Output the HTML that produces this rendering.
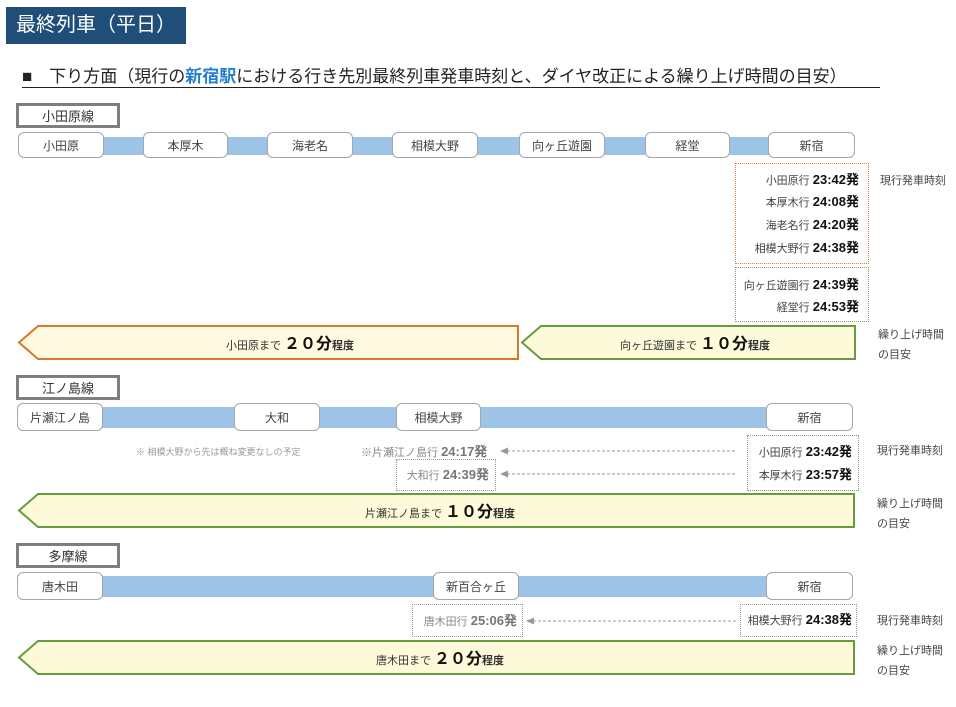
<!DOCTYPE html>
<html><head><meta charset="utf-8"><style>
*{margin:0;padding:0;box-sizing:border-box}
body{width:956px;height:707px;position:relative;background:#fff;font-family:"Liberation Sans","Noto Sans CJK JP",sans-serif;color:#333;overflow:hidden}
.a{position:absolute}
.st{position:absolute;background:#fff;border:1px solid #a6a6a6;border-radius:6px;font-size:12px;display:flex;align-items:center;justify-content:center;color:#444}
.bar{position:absolute;background:#9dc3e6}
.lb{position:absolute;border:3px solid #7f7f7f;font-size:13px;display:flex;align-items:center;justify-content:center;background:#fff;color:#333}
.tt{position:absolute;font-size:11px;text-align:right;color:#444;white-space:nowrap}
.tt b{font-size:13px;color:#111}
.side{position:absolute;font-size:11px;color:#444;line-height:20px}
.g{color:#888}.g b{color:#777}
</style></head><body>
<div class="a" style="left:6px;top:7px;width:180px;height:37px;background:#1f4e79;color:#fff;font-size:20px;line-height:36px;padding-left:10px">最終列車（平日）</div>
<div class="a" style="left:22px;top:66px;width:858px;height:22px;border-bottom:1.5px solid #222;font-size:17px;color:#222;white-space:nowrap;line-height:22px">■　下り方面（現行の<span style="color:#1f7fd0;font-weight:bold">新宿駅</span>における行き先別最終列車発車時刻と、ダイヤ改正による繰り上げ時間の目安）</div>

<div class="lb" style="left:16px;top:103px;width:104px;height:25px">小田原線</div>
<div class="bar" style="left:100px;top:137px;width:670px;height:18px"></div>
<div class="st" style="left:18px;top:132px;width:86px;height:26px">小田原</div>
<div class="st" style="left:143px;top:132px;width:85px;height:26px">本厚木</div>
<div class="st" style="left:267px;top:132px;width:86px;height:26px">海老名</div>
<div class="st" style="left:392px;top:132px;width:86px;height:26px">相模大野</div>
<div class="st" style="left:519px;top:132px;width:86px;height:26px">向ヶ丘遊園</div>
<div class="st" style="left:645px;top:132px;width:85px;height:26px">経堂</div>
<div class="st" style="left:768px;top:132px;width:87px;height:26px">新宿</div>

<div class="a" style="left:735px;top:163px;width:134px;height:101px;border:1px dotted #d08050"></div>
<div class="tt" style="right:97px;top:169px">小田原行 <b>23:42発</b></div>
<div class="tt" style="right:97px;top:191px">本厚木行 <b>24:08発</b></div>
<div class="tt" style="right:97px;top:214px">海老名行 <b>24:20発</b></div>
<div class="tt" style="right:97px;top:237px">相模大野行 <b>24:38発</b></div>
<div class="a" style="left:735px;top:267px;width:134px;height:55px;border:1px dotted #8a9a70"></div>
<div class="tt" style="right:97px;top:274px">向ヶ丘遊園行 <b>24:39発</b></div>
<div class="tt" style="right:97px;top:296px">経堂行 <b>24:53発</b></div>
<div class="side" style="left:880px;top:171px">現行発車時刻</div>
<div class="side" style="left:878px;top:325px">繰り上げ時間<br>の目安</div>

<svg class="a" style="left:0;top:0" width="956" height="707">
<g stroke-width="2">
<polygon points="38,326 518,326 518,359 38,359 19,342.5" fill="#fff9e0" stroke="#d6782e"/>
<polygon points="541,326 855,326 855,359 541,359 522,342.5" fill="#fcfad8" stroke="#6a9a3f"/>
<polygon points="38,494 854,494 854,527 38,527 19,510.5" fill="#fcfad8" stroke="#6a9a3f"/>
<polygon points="38,641 854,641 854,674 38,674 19,657.5" fill="#fcfad8" stroke="#6a9a3f"/>
</g>
<g stroke="#999" stroke-width="1" stroke-dasharray="3,2">
<line x1="507" y1="451" x2="735" y2="451"/><line x1="507" y1="474" x2="735" y2="474"/>
<line x1="533" y1="621" x2="736" y2="621"/>
</g>
<g fill="#999"><polygon points="500,451 508,447.5 508,454.5"/><polygon points="500,474 508,470.5 508,477.5"/><polygon points="526,621 534,617.5 534,624.5"/></g>
</svg>
<div class="a" style="left:180px;top:330px;width:220px;text-align:center;font-size:11px;color:#333;white-space:nowrap">小田原まで <b style="font-size:16px;color:#111">２０分</b><b>程度</b></div>
<div class="a" style="left:580px;top:330px;width:230px;text-align:center;font-size:11px;color:#333;white-space:nowrap">向ヶ丘遊園まで <b style="font-size:16px;color:#111">１０分</b><b>程度</b></div>

<div class="lb" style="left:16px;top:375px;width:104px;height:25px">江ノ島線</div>
<div class="bar" style="left:100px;top:407px;width:670px;height:21px"></div>
<div class="st" style="left:17px;top:403px;width:86px;height:28px">片瀬江ノ島</div>
<div class="st" style="left:234px;top:403px;width:86px;height:28px">大和</div>
<div class="st" style="left:396px;top:403px;width:85px;height:28px">相模大野</div>
<div class="st" style="left:766px;top:403px;width:87px;height:28px">新宿</div>
<div class="a g" style="left:136px;top:445px;font-size:9px;color:#999">※ 相模大野から先は概ね変更なしの予定</div>
<div class="tt g" style="left:361px;top:441px">※片瀬江ノ島行 <b>24:17発</b></div>
<div class="a" style="left:396px;top:459px;width:100px;height:32px;border:1px dotted #999"></div>
<div class="tt g" style="right:467px;top:464px">大和行 <b>24:39発</b></div>
<div class="a" style="left:747px;top:435px;width:112px;height:56px;border:1px dotted #8a9a70"></div>
<div class="tt" style="right:104px;top:441px">小田原行 <b>23:42発</b></div>
<div class="tt" style="right:104px;top:464px">本厚木行 <b>23:57発</b></div>
<div class="side" style="left:877px;top:441px">現行発車時刻</div>
<div class="side" style="left:877px;top:494px">繰り上げ時間<br>の目安</div>
<div class="a" style="left:320px;top:498px;width:240px;text-align:center;font-size:11px;color:#333;white-space:nowrap">片瀬江ノ島まで <b style="font-size:16px;color:#111">１０分</b><b>程度</b></div>

<div class="lb" style="left:16px;top:543px;width:104px;height:25px">多摩線</div>
<div class="bar" style="left:100px;top:576px;width:670px;height:21px"></div>
<div class="st" style="left:17px;top:572px;width:86px;height:28px">唐木田</div>
<div class="st" style="left:433px;top:572px;width:86px;height:28px">新百合ヶ丘</div>
<div class="st" style="left:766px;top:572px;width:87px;height:28px">新宿</div>
<div class="a" style="left:412px;top:604px;width:111px;height:33px;border:1px dotted #999"></div>
<div class="tt g" style="right:439px;top:610px">唐木田行 <b>25:06発</b></div>
<div class="a" style="left:740px;top:604px;width:117px;height:33px;border:1px dotted #999"></div>
<div class="tt" style="right:104px;top:609px">相模大野行 <b>24:38発</b></div>
<div class="side" style="left:877px;top:611px">現行発車時刻</div>
<div class="side" style="left:877px;top:641px">繰り上げ時間<br>の目安</div>
<div class="a" style="left:330px;top:645px;width:220px;text-align:center;font-size:11px;color:#333;white-space:nowrap">唐木田まで <b style="font-size:16px;color:#111">２０分</b><b>程度</b></div>
</body></html>
